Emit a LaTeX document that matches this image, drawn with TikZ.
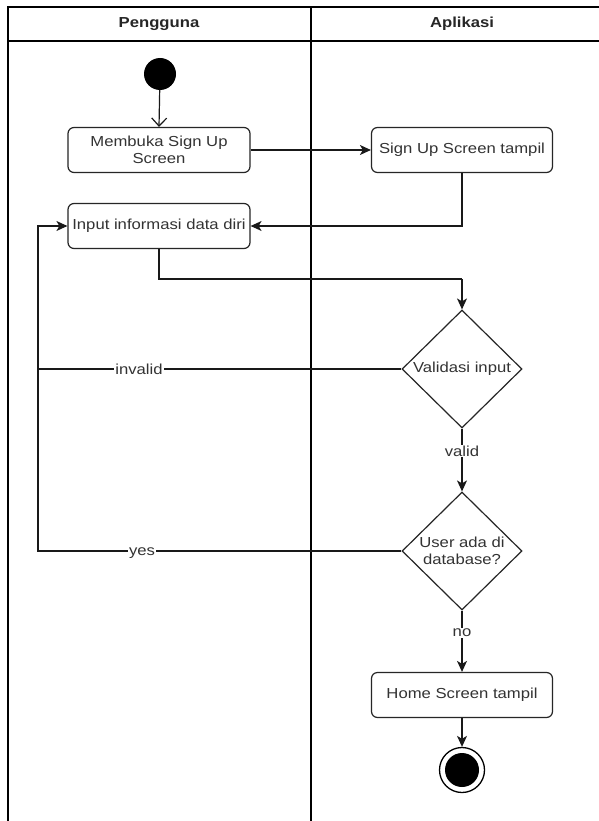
\documentclass[tikz,border=0pt]{standalone}
\usepackage{fontspec}
\setmainfont{Liberation Sans}[FakeStretch=1.15]
\usetikzlibrary{arrows.meta,shapes.geometric,calc}

\tikzset{
  lane/.style={line width=1.6pt, draw=black},
  action/.style={draw=black!85, line width=1.2pt, rounded corners=6pt, fill=white,
    minimum width=182pt, minimum height=45pt, inner sep=2pt,
    align=center, font=\fontsize{14.5}{17}\selectfont, text=black!80},
  decision/.style={diamond, draw=black!85, line width=1.2pt, fill=white,
    minimum width=120pt, minimum height=118pt, inner sep=0pt, aspect=1.02,
    align=center, font=\fontsize{14.5}{17}\selectfont, text=black!80},
  flow/.style={line width=1.2pt, draw=black!90,
    -{Stealth[length=11pt,width=10pt,inset=3pt]}},
  plain/.style={line width=1.2pt, draw=black!90},
  guard/.style={fill=white, inner sep=1pt, font=\fontsize{14.5}{17}\selectfont, text=black!80},
  header/.style={font=\bfseries\fontsize{14.5}{17}\selectfont, text=black!85}
}

\begin{document}
\begin{tikzpicture}[x=1pt,y=-1pt]
  \useasboundingbox (0,0) rectangle (599,821);
  \fill[white] (0,0) rectangle (599,821);

  % swimlane pool
  \draw[lane] (8,830) -- (8,7) -- (612,7);
  \draw[lane] (8,41) -- (612,41);
  \draw[lane] (311,7) -- (311,830);
  \node[header] (hUser) at (159,24) {Pengguna};
  \node[header] (hApp) at (462,24) {Aplikasi};

  % start and end states
  \node[circle, fill=black, minimum size=32pt, inner sep=0pt] (start) at (160,74) {};
  \node[circle, draw=black, line width=1.3pt, fill=white, minimum size=45pt, inner sep=0pt] (endo) at (462,770) {};
  \node[circle, fill=black, minimum size=34pt, inner sep=0pt] (endi) at (462,770) {};

  % actions
  \node[action] (open) at (159,150) {Membuka Sign Up\\Screen};
  \node[action, minimum width=181pt] (signup) at (462,150) {Sign Up Screen tampil};
  \node[action] (input) at (159,226) {Input informasi data diri};
  \node[decision] (valid) at (462,369) {Validasi input};
  \node[decision] (exists) at (462,551) {User ada di\\database?};
  \node[action, minimum width=181pt] (home) at (462,695) {Home Screen tampil};

  % corner points of the routed connectors
  \coordinate (loopTop) at (38,226);
  \coordinate (loopInv) at (38,369);
  \coordinate (loopYes) at (38,551);
  \coordinate (toCheck) at (462,279);

  % connectors
  \draw[line width=1.2pt, draw=black!90, -{Straight Barb[length=8pt,width=15pt,line width=1.2pt]}]
    (start) -- (open.north);
  \draw[flow] (open.east) -- (signup.west);
  \draw[flow] (signup.south) |- (input.east);
  \draw[plain] (input.south) |- (toCheck);
  \draw[flow] (toCheck) -- (valid.north);
  \draw[flow] (valid.west) -- (loopInv) -- (loopTop) -- (input.west);
  \draw[plain] (exists.west) -- (loopYes) -- (loopInv);
  \draw[flow] (valid.south) -- (exists.north);
  \draw[flow] (exists.south) -- (home.north);
  \draw[flow] (home.south) -- (endo.north);

  % guard labels
  \node[guard] (gInvalid) at (139,369) {invalid};
  \node[guard] (gValid) at (462,451) {valid};
  \node[guard] (gYes) at (142,553) {yes};
  \node[guard] (gNo) at (462,633) {no};
\end{tikzpicture}
\end{document}
